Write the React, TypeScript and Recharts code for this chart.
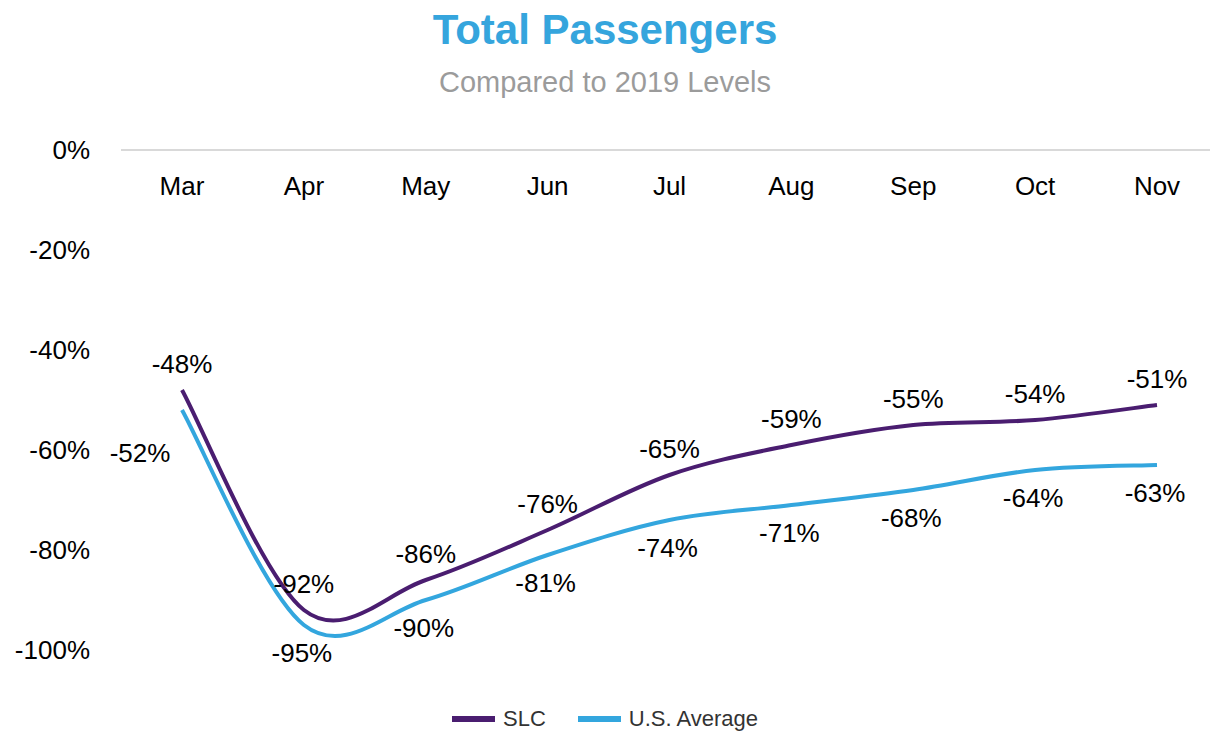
import { CartesianGrid, LabelList, Line, LineChart, XAxis, YAxis } from "recharts";

const months = ["Mar", "Apr", "May", "Jun", "Jul", "Aug", "Sep", "Oct", "Nov"];
const slc = [-48, -92, -86, -76, -65, -59, -55, -54, -51];
const usAverage = [-52, -95, -90, -81, -74, -71, -68, -64, -63];
const yTicks = [0, -20, -40, -60, -80, -100];

const data = months.map((m, i) => ({ month: m, slc: slc[i], us: usAverage[i] }));

const PURPLE = "#4a1d70";
const BLUE = "#33a6de";
const FONT = "'Liberation Sans', Arial, sans-serif";

// excel-style smoothed line (catmull-rom, 1/6 control points)
const excelCurve = (context: any) => {
  let pts: number[][] = [];
  return {
    areaStart() {},
    areaEnd() {},
    lineStart() {
      pts = [];
    },
    point(x: number, y: number) {
      pts.push([+x, +y]);
    },
    lineEnd() {
      if (!pts.length) return;
      context.moveTo(pts[0][0], pts[0][1]);
      for (let i = 0; i < pts.length - 1; i++) {
        const p0 = pts[i - 1] || pts[i];
        const p1 = pts[i];
        const p2 = pts[i + 1];
        const p3 = pts[i + 2] || p2;
        context.bezierCurveTo(
          p1[0] + (p2[0] - p0[0]) / 6,
          p1[1] + (p2[1] - p0[1]) / 6,
          p2[0] - (p3[0] - p1[0]) / 6,
          p2[1] - (p3[1] - p1[1]) / 6,
          p2[0],
          p2[1]
        );
      }
    },
  };
};

const MonthTick = (props: any) => {
  const { x, y, payload } = props;
  return (
    <text x={x} y={y} dy={53} textAnchor="middle" fontSize={26} fill="#000" fontFamily={FONT}>
      {payload.value}
    </text>
  );
};

const slcLabel = (props: any) => {
  const { x, y, value } = props;
  return (
    <text x={x} y={y} dy={-17} textAnchor="middle" fontSize={26} fill="#000" fontFamily={FONT}>
      {value}%
    </text>
  );
};

const usLabel = (props: any) => {
  const { x, y, value, index } = props;
  const first = index === 0;
  return (
    <text
      x={x}
      y={y}
      dx={first ? -42 : -2}
      dy={first ? 52 : 37}
      textAnchor="middle"
      fontSize={26}
      fill="#000"
      fontFamily={FONT}
    >
      {value}%
    </text>
  );
};

const legendItem = (color: string, label: string) => (
  <div style={{ display: "flex", alignItems: "center", marginRight: 32 }}>
    <div style={{ width: 43, height: 6, background: color, marginRight: 8 }} />
    <span style={{ fontSize: 22, color: "#333" }}>{label}</span>
  </div>
);

export default function App() {
  return (
    <div
      style={{
        position: "absolute",
        left: 0,
        top: 0,
        width: 1210,
        height: 734,
        background: "#fff",
        fontFamily: FONT,
      }}
    >
      <div
        style={{
          position: "absolute",
          top: 6,
          width: 1210,
          textAlign: "center",
          fontSize: 42,
          fontWeight: 700,
          color: "#35a5dd",
        }}
      >
        Total Passengers
      </div>
      <div
        style={{
          position: "absolute",
          top: 66,
          width: 1210,
          textAlign: "center",
          fontSize: 29,
          color: "#9b9b9b",
        }}
      >
        Compared to 2019 Levels
      </div>
      <div style={{ position: "absolute", left: 0, top: 0 }}>
        <LineChart
          width={1210}
          height={734}
          data={data}
          margin={{ top: 120, right: 0, bottom: 84, left: 0 }}
          style={{ fontFamily: FONT }}
        >
          <CartesianGrid horizontal={false} vertical={false} />
          <XAxis
            dataKey="month"
            orientation="top"
            height={30}
            scale="point"
            padding={{ left: 61, right: 53 }}
            axisLine={{ stroke: "#d9d9d9", strokeWidth: 2 }}
            tickLine={false}
            tick={<MonthTick />}
            interval={0}
          />
          <YAxis
            domain={[-100, 0]}
            ticks={yTicks}
            width={121}
            axisLine={false}
            tickLine={false}
            tickMargin={25}
            tick={{ fill: "#000", fontSize: 26 }}
            tickFormatter={(v) => `${v}%`}
          />
          <Line
            dataKey="us"
            name="U.S. Average"
            stroke={BLUE}
            strokeWidth={4}
            type={excelCurve as any}
            dot={false}
            isAnimationActive={false}
          >
            <LabelList dataKey="us" content={usLabel} />
          </Line>
          <Line
            dataKey="slc"
            name="SLC"
            stroke={PURPLE}
            strokeWidth={4}
            type={excelCurve as any}
            dot={false}
            isAnimationActive={false}
          >
            <LabelList dataKey="slc" content={slcLabel} />
          </Line>
        </LineChart>
      </div>
      <div
        style={{
          position: "absolute",
          top: 706,
          left: 452,
          display: "flex",
        }}
      >
        {legendItem(PURPLE, "SLC")}
        {legendItem(BLUE, "U.S. Average")}
      </div>
    </div>
  );
}
